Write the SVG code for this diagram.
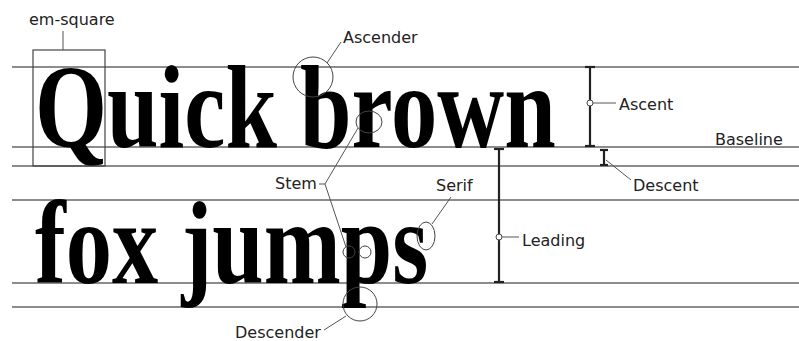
<svg xmlns="http://www.w3.org/2000/svg" width="799" height="341" viewBox="0 0 799 341">
<style>
.guide{stroke:#666;stroke-width:1.6;fill:none}
.lead{stroke:#555;stroke-width:1;fill:none}
.bar{stroke:#222;stroke-width:2.2;fill:none}
.ring{stroke:#444;stroke-width:1;fill:none}
.lbl{font-family:"DejaVu Sans",Verdana,sans-serif;font-size:16px;fill:#222}
.big{font-family:"Liberation Serif","Times New Roman",serif;font-weight:bold;font-size:118px;fill:#000}
</style>
<rect width="799" height="341" fill="#fff"/>
<g id="guides">
<line class="guide" x1="12" y1="67" x2="799" y2="67"/>
<line class="guide" x1="12" y1="147" x2="799" y2="147"/>
<line class="guide" x1="12" y1="166" x2="799" y2="166"/>
<line class="guide" x1="12" y1="200" x2="799" y2="200"/>
<line class="guide" x1="12" y1="283" x2="799" y2="283"/>
<line class="guide" x1="12" y1="307" x2="799" y2="307"/>
</g>
<g id="sample-text">
<text class="big" transform="scale(0.785,1)" x="44.6" y="147">Quick brown</text>
<text class="big" transform="scale(0.784,1)" x="44.6" y="283">fox jumps</text>
</g>
<g id="em-square">
<rect x="33" y="50" width="72" height="116" fill="none" stroke="#444" stroke-width="1.2"/>
<text class="lbl" x="29" y="25">em-square</text>
</g>
<g id="ascender">
<circle class="ring" cx="313" cy="77" r="20"/>
<text class="lbl" x="343" y="43">Ascender</text>
</g>
<g id="stem">
<ellipse class="ring" cx="369" cy="122" rx="13" ry="11"/>
<circle class="ring" cx="349" cy="252" r="6"/>
<circle class="ring" cx="365" cy="252" r="6"/>
<text class="lbl" x="275" y="189">Stem</text>
</g>
<g id="serif">
<ellipse class="ring" cx="426" cy="236" rx="9" ry="14"/>
<text class="lbl" x="436" y="191">Serif</text>
</g>
<g id="descender">
<circle class="ring" cx="360" cy="304" r="17"/>
<text class="lbl" x="235" y="338">Descender</text>
</g>
<g id="ascent">
<line class="bar" x1="590" y1="67" x2="590" y2="146"/>
<line class="bar" x1="585" y1="67" x2="595" y2="67"/>
<line class="bar" x1="585" y1="146" x2="595" y2="146"/>
<circle cx="590" cy="103" r="3" fill="#fff" stroke="#444" stroke-width="1"/>
<text class="lbl" x="619" y="110">Ascent</text>
</g>
<g id="baseline">
<text class="lbl" x="715" y="145">Baseline</text>
</g>
<g id="descent">
<line class="bar" x1="604" y1="150" x2="604" y2="165"/>
<line class="bar" x1="600" y1="150" x2="608" y2="150"/>
<line class="bar" x1="600" y1="165" x2="608" y2="165"/>
<text class="lbl" x="633" y="191">Descent</text>
</g>
<g id="leading">
<line class="bar" x1="499" y1="149" x2="499" y2="282"/>
<line class="bar" x1="494" y1="149" x2="504" y2="149"/>
<line class="bar" x1="494" y1="282" x2="504" y2="282"/>
<circle cx="499" cy="237" r="3" fill="#fff" stroke="#444" stroke-width="1"/>
<text class="lbl" x="522" y="246">Leading</text>
</g>
<g id="connectors">
<line class="lead" x1="63" y1="31" x2="63" y2="50"/>
<line class="lead" x1="327" y1="63" x2="341" y2="42"/>
<line class="lead" x1="319" y1="184" x2="325" y2="184"/>
<line class="lead" x1="325" y1="184" x2="358" y2="128"/>
<line class="lead" x1="325" y1="184" x2="346" y2="247"/>
<line class="lead" x1="432" y1="224" x2="451" y2="197"/>
<line class="lead" x1="346" y1="316" x2="324" y2="330"/>
<line class="lead" x1="593" y1="103" x2="616" y2="103"/>
<line class="lead" x1="606" y1="160" x2="631" y2="180"/>
<line class="lead" x1="502" y1="237" x2="519" y2="237"/>
</g>
</svg>
